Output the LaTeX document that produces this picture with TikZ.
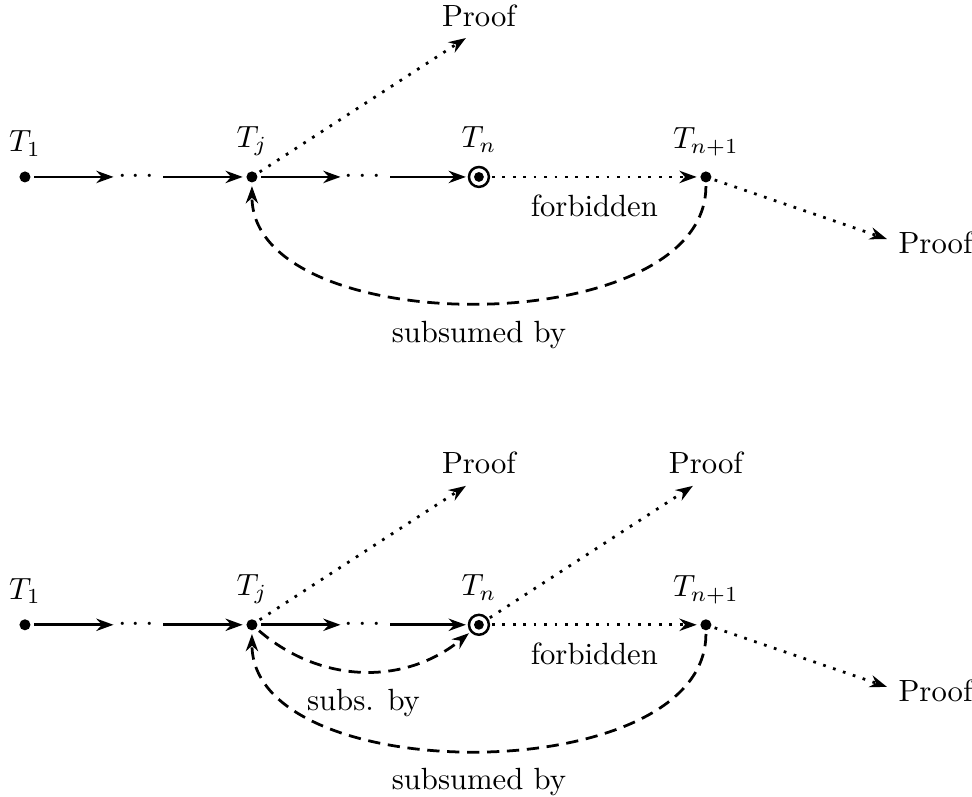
\documentclass[tikz,border=0pt]{standalone}
\usepackage{amsmath}
\usetikzlibrary{arrows.meta,positioning,shapes}
\usetikzlibrary{calc}

\tikzset{
  pt/.style={circle, fill, inner sep=0pt, minimum size=3.6pt, outer sep=1.2pt,
    label distance=-2.5pt},
  fin/.style={circle, draw, thick, inner sep=0pt, minimum size=6.5pt, outer sep=1pt,
    label distance=-3pt,
    path picture={\fill (path picture bounding box.center) circle (1.6pt);}},
  dts/.style={inner sep=1pt},
  dotline/.style={dash pattern=on \pgflinewidth off 2.5pt},
  dashline/.style={dash pattern=on 4pt off 2.5pt},
}

\begin{document}
\begin{tikzpicture}[->, >={Stealth[length=5.6pt,width=4pt,inset=1.8pt]},
    line width=0.9pt, node distance=13mm, on grid, auto]
  \useasboundingbox (-0.286,2.027) rectangle (10.848,-7.102);

  \node[pt,label=above:$T_1$] (a1) {};
  \node[dts] (ad1) [right=of a1] {$\cdots$};
  \node[pt,label=above:$T_j$] (aj) [right=of ad1] {};
  \node[dts] (ad2) [right=of aj] {$\cdots$};
  \node[fin,label=above:$T_n$] (an) [right=of ad2] {};
  \node[pt,label=above:$T_{n+1}$] (an1) [right=26mm of an] {};
  \node (ap1) [above=18.5mm of an] {Proof};
  \node (ap2) [below right=7.6mm and 26.3mm of an1] {Proof};

  \path (a1) edge[] (ad1);
  \path (ad1) edge[] (aj);
  \path (aj) edge[] (ad2);
  \path (ad2) edge[] (an);
  \path (an) edge[dotline] node[below=2pt] {forbidden} (an1);
  \path (aj) edge[dotline] (ap1.-120);
  \path (an1) edge[dotline] (ap2.175);
  \path (an1) edge[dashline, out=-90, in=-90, looseness=0.88]
    node[below=2pt] {subsumed by} (aj);

  \node[pt,label=above:$T_1$] (b1) [below=51.3mm of a1] {};
  \node[dts] (bd1) [right=of b1] {$\cdots$};
  \node[pt,label=above:$T_j$] (bj) [right=of bd1] {};
  \node[dts] (bd2) [right=of bj] {$\cdots$};
  \node[fin,label=above:$T_n$] (bn) [right=of bd2] {};
  \node[pt,label=above:$T_{n+1}$] (bn1) [right=26mm of bn] {};
  \node (bp1) [above=18.5mm of bn] {Proof};
  \node (bp2) [above=18.5mm of bn1] {Proof};
  \node (bp3) [below right=7.6mm and 26.3mm of bn1] {Proof};

  \path (b1) edge[] (bd1);
  \path (bd1) edge[] (bj);
  \path (bj) edge[] (bd2);
  \path (bd2) edge[] (bn);
  \path (bn) edge[dotline] node[below=2pt] {forbidden} (bn1);
  \path (bj) edge[dotline] (bp1.-120);
  \path (bn) edge[dotline] (bp2.-120);
  \path (bn1) edge[dotline] (bp3.175);
  \path (bj) edge[dashline, bend right=40] node[below=2pt] {subs. by} (bn);
  \path (bn1) edge[dashline, out=-90, in=-90, looseness=0.88]
    node[below=2pt] {subsumed by} (bj);
\end{tikzpicture}
\end{document}
